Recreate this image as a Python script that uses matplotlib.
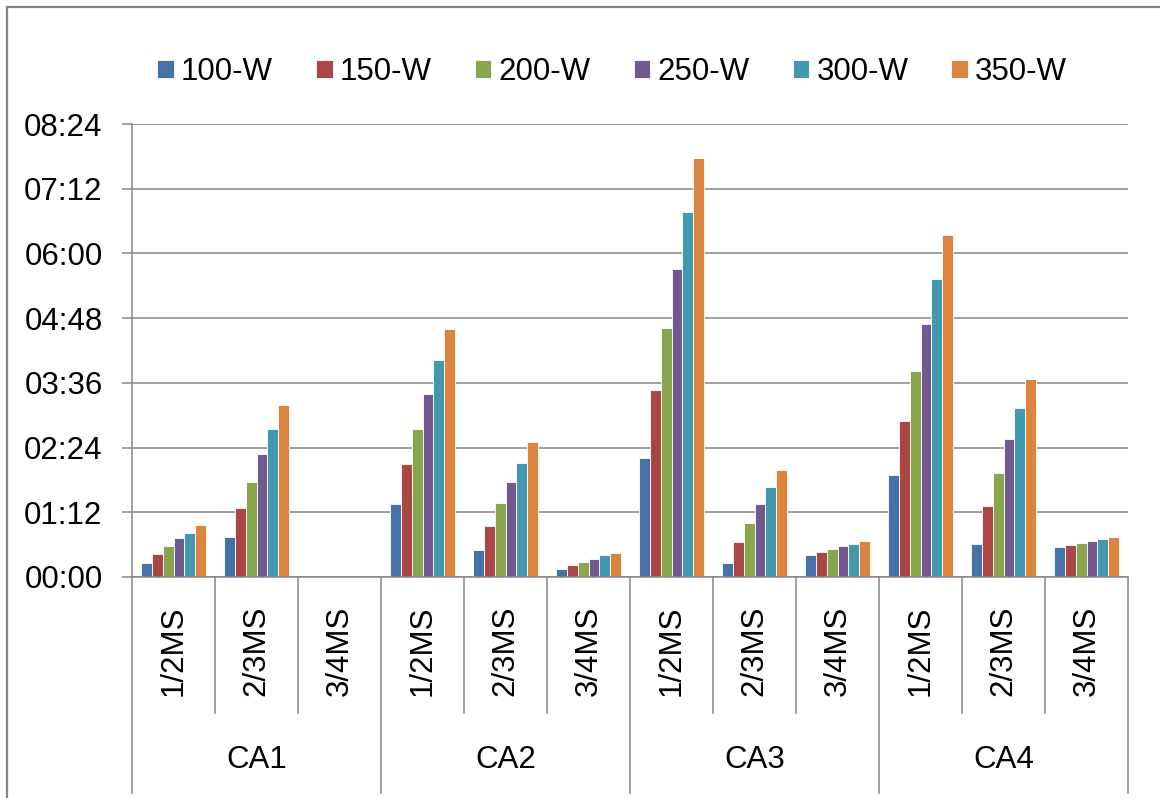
import matplotlib
matplotlib.use("Agg")
import matplotlib.pyplot as plt
from matplotlib.patches import Rectangle
from matplotlib.ticker import FixedLocator, FuncFormatter
import matplotlib.transforms as mtransforms

plt.rcParams["font.family"] = ["Liberation Sans", "DejaVu Sans"]

# Groups and sub-categories on the category axis
groups = ["CA1", "CA2", "CA3", "CA4"]
subcats = ["1/2MS", "2/3MS", "3/4MS"]

# Series (times in seconds, one value per group/sub-category pair)
series_names = ["100-W", "150-W", "200-W", "250-W", "300-W", "350-W"]
w100 = [16, 44, 0, 81, 30, 9, 132, 16, 25, 113, 37, 33]
w150 = [26, 77, 0, 126, 57, 13, 208, 39, 28, 174, 79, 36]
w200 = [35, 106, 0, 165, 82, 17, 277, 60, 31, 229, 116, 38]
w250 = [43, 137, 0, 204, 106, 20, 343, 81, 34, 282, 153, 40]
w300 = [49, 165, 0, 241, 127, 24, 406, 100, 37, 332, 188, 42]
w350 = [58, 191, 0, 276, 150, 27, 466, 119, 40, 380, 220, 44]

colors = ["#4572A7", "#AA4643", "#89A54E", "#71588F", "#4198AF", "#DB843D"]
grid_gray = "#868686"
FS = 22.5

W, H = 1160, 798
fig = plt.figure(figsize=(W / 100, H / 100), dpi=100)
ax = fig.add_axes([132 / W, 1 - 577 / H, (1128 - 132) / W, (577 - 124) / H])

all_series = [w100, w150, w200, w250, w300, w350]
n_cat = len(groups) * len(subcats)
bw = 0.1325
for k, (name, vals, c) in enumerate(zip(series_names, all_series, colors)):
    xs = [i + 0.5 + (k - 2.5) * bw for i in range(n_cat)]
    ax.bar(xs, vals, width=bw, color=c, edgecolor="white", linewidth=0.6,
           label=name, zorder=2)

ax.set_xlim(0, n_cat)
ax.set_ylim(0, 504)
ax.yaxis.set_major_locator(FixedLocator(list(range(0, 505, 72))))
ax.yaxis.set_major_formatter(
    FuncFormatter(lambda v, p: "%02d:%02d" % (int(v) // 60, int(v) % 60)))
ax.tick_params(axis="y", length=7.2, width=1.1, color=grid_gray, pad=14,
               labelsize=FS, labelcolor="black")
ax.set_xticks([])
ax.set_axisbelow(True)
ax.yaxis.grid(True, color=grid_gray, linewidth=1.1)

for s in ["top", "right"]:
    ax.spines[s].set_visible(False)
for s in ["left", "bottom"]:
    ax.spines[s].set_color(grid_gray)
    ax.spines[s].set_linewidth(1.1)

# Two-level category axis: separators and labels below the plot
trans = mtransforms.blended_transform_factory(ax.transData, ax.transAxes)
h_ax = 577 - 124
sub_bottom = -(713 - 577) / h_ax
grp_bottom = -(793 - 577) / h_ax
for i in range(n_cat + 1):
    yb = grp_bottom if i % 3 == 0 else sub_bottom
    ax.plot([i, i], [0, yb], color=grid_gray, linewidth=1.1,
            transform=trans, clip_on=False)

sub_y = -(651 - 577) / h_ax
grp_y = -(760 - 577) / h_ax
for i in range(n_cat):
    ax.text(i + 0.5, sub_y, subcats[i % 3], rotation=90, ha="center",
            va="center", fontsize=FS, transform=trans)
for g, name in enumerate(groups):
    ax.text(g * 3 + 1.5, grp_y, name, ha="center", va="center",
            fontsize=FS, transform=trans)

# Legend across the top
fig.legend(loc="center", bbox_to_anchor=(612 / W, 1 - 72 / H), ncol=6,
           frameon=False, fontsize=FS, handlelength=0.54, handleheight=0.54,
           handletextpad=0.22, columnspacing=1.38, borderpad=0)

# Chart border
fig.patches.append(Rectangle((7 / W, -0.1), 1.2, 1.1 - 7 / H,
                             transform=fig.transFigure, fill=False,
                             edgecolor=grid_gray, linewidth=1.6))

fig.savefig("out.png", dpi=100)
